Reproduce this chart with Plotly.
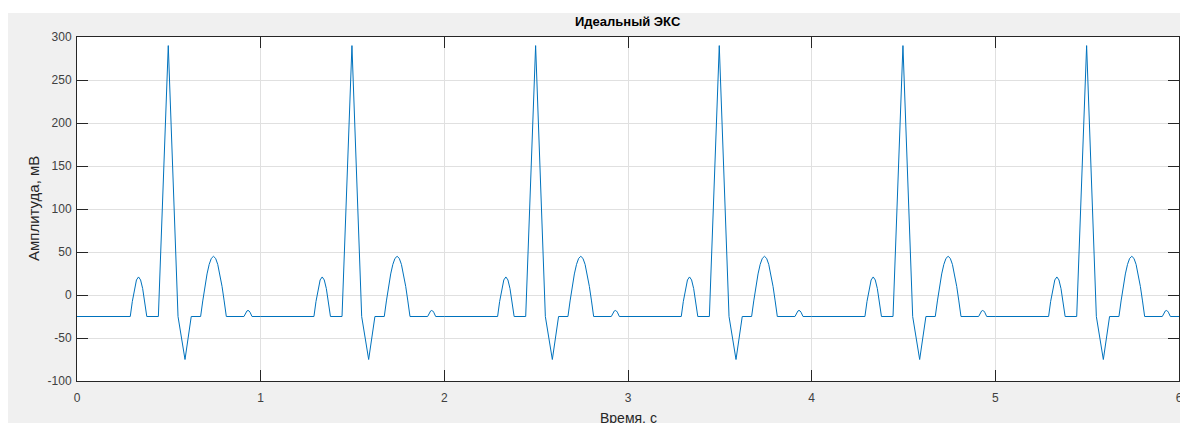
import plotly.graph_objects as go

# One heartbeat template (time within beat, s; amplitude, mV)
beat_t = [0.000, 0.290, 0.30125, 0.3125, 0.32375, 0.335, 0.34625, 0.3575, 0.36875, 0.380,
          0.443, 0.497, 0.550, 0.588, 0.622,
          0.673, 0.6847, 0.6963, 0.708, 0.7197, 0.7313, 0.743, 0.7547, 0.7663, 0.778, 0.7897, 0.8013, 0.813,
          0.909, 0.9145, 0.920, 0.9255, 0.931, 0.9365, 0.942, 0.9475, 0.953]
beat_v = [-25, -25, -7.4, 7.5, 17.5, 21, 17.5, 7.5, -7.4, -25,
          -25, 290, -25, -75, -25,
          -25, -6.9, 10, 24.5, 35.6, 42.6, 45, 42.6, 35.6, 24.5, 10, -6.9, -25,
          -25, -22.3, -20.0, -18.5, -18, -18.5, -20.0, -22.3, -25]
beat_starts = [0, 1, 2, 3, 4, 5]
end_time = 6.0
baseline = -25

x_ticks = [0, 1, 2, 3, 4, 5, 6]
y_ticks = [-100, -50, 0, 50, 100, 150, 200, 250, 300]

title_text = "Идеальный ЭКС"
x_label = "Время, с"
y_label = "Амплитуда, мВ"

t_all, v_all = [], []
for s in beat_starts:
    for t, v in zip(beat_t, beat_v):
        t_all.append(s + t)
        v_all.append(v)
t_all.append(end_time)
v_all.append(baseline)

W, H = 1180, 423
ml, mr, mt, mb = 77, 1, 37, 42
pw, ph = W - ml - mr, H - mt - mb

fig = go.Figure()
fig.add_trace(go.Scatter(x=t_all, y=v_all, mode="lines",
                         line=dict(color="#0072BD", width=1), hoverinfo="skip"))

font_family = "Liberation Sans, Arial, sans-serif"
axis_common = dict(showline=True, linecolor="#262626", linewidth=1, mirror="ticks",
                   ticks="inside", ticklen=11, tickwidth=1, tickcolor="#262626",
                   showgrid=True, gridcolor="#e0e0e0", gridwidth=1, zeroline=False,
                   ticklabeloverflow="allow", automargin=False,
                   tickfont=dict(family=font_family, size=12, color="#404040"))

fig.update_xaxes(range=[0, 6], tickvals=x_ticks, ticktext=[str(v) for v in x_ticks],
                 ticklabelstandoff=6, **axis_common)
fig.update_yaxes(range=[-100, 300], tickvals=y_ticks, ticktext=[str(v) for v in y_ticks],
                 ticklabelstandoff=2, **axis_common)

# white strips at top and left (figure background is grey)
fig.add_shape(type="rect", xref="paper", yref="paper", x0=-ml / pw - 0.01, x1=1 + 5 / pw,
              y0=1 + (mt - 13) / ph, y1=1 + mt / ph + 0.01, fillcolor="white",
              line=dict(width=0), layer="below")
fig.add_shape(type="rect", xref="paper", yref="paper", x0=-ml / pw - 0.01, x1=-(ml - 8) / pw,
              y0=-mb / ph - 0.01, y1=1 + mt / ph + 0.01, fillcolor="white",
              line=dict(width=0), layer="below")

fig.add_annotation(text="<b>" + title_text + "</b>", xref="paper", yref="paper",
                   x=0.5, y=1 + (mt - 22) / ph, xanchor="center", yanchor="middle",
                   showarrow=False, font=dict(family=font_family, size=13, color="#000000"))
fig.add_annotation(text=x_label, xref="paper", yref="paper",
                   x=0.5, y=-(418 - (H - mb)) / ph, xanchor="center", yanchor="middle",
                   showarrow=False, font=dict(family=font_family, size=14, color="#262626"))
fig.add_annotation(text=y_label, xref="paper", yref="paper",
                   x=-(ml - 33) / pw, y=0.5, xanchor="center", yanchor="middle", textangle=-90,
                   showarrow=False, font=dict(family=font_family, size=15, color="#262626"))

fig.update_layout(width=W, height=H, margin=dict(l=ml, r=mr, t=mt, b=mb, autoexpand=False),
                  paper_bgcolor="#f0f0f0", plot_bgcolor="white", showlegend=False)

page_fix = ("document.documentElement.style.overflow='hidden';"
            "document.body.style.margin='0';document.body.style.overflow='hidden';")
fig.write_html("out.html", config={"displayModeBar": False}, post_script=page_fix)
